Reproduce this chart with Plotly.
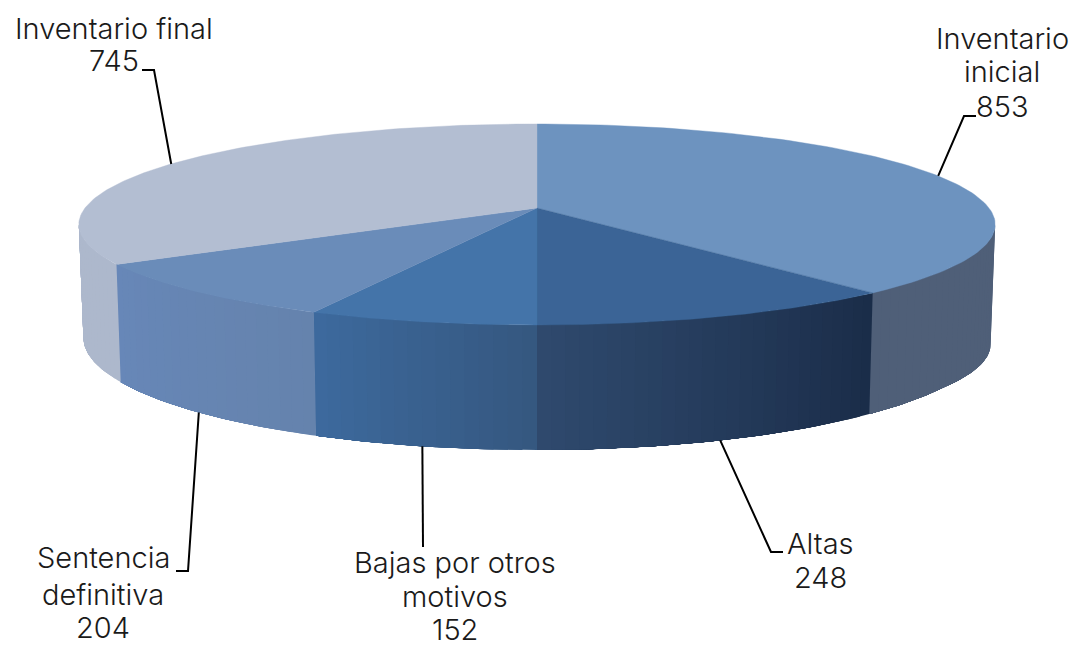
import numpy as np
import plotly.graph_objects as go

# ---- data ----
categories = ["Inventario inicial", "Altas", "Bajas por otros motivos", "Sentencia definitiva", "Inventario final"]
values = [853, 248, 152, 204, 745]
label_lines = [["Inventario", "inicial", "853"], ["Altas", "248"], ["Bajas por otros", "motivos", "152"],
               ["Sentencia", "definitiva", "204"], ["Inventario final", "745"]]

# ---- style ----
top_colors = ["#6d93bf", "#3b6496", "#4474a9", "#6a8cb9", "#b3bed2"]
wall_start = ["#4f5f78", "#1a2c48", "#35577f", "#6583ad", "#adb8cc"]
wall_end = ["#4f5f78", "#2f4a6e", "#3d6a9e", "#6787b8", "#aeb8cc"]
label_x = [1002, 820, 455, 103, 114]
label_y = [[38, 71, 106], [543, 577], [562, 596, 629], [557, 594, 627], [28, 60]]
elbows = [[(964, 116), (976, 116)], [(771, 552), (783, 552)], [(423, 547)], [(188, 571), (176, 571)], [(154, 70), (142, 70)]]

CX, CY, A, B, K = 537.0, 208.0, 452.0, 97.8, -0.164
H0, HEXP, HREF = 125.0, 0.68, 1.196
LEAN = 0.99
VIS_LO, VIS_HI = 99.4, 260.6


def top_pt(theta_deg):
    t = np.radians(theta_deg)
    X, Y = np.sin(t), -np.cos(t)
    d = 1 + K * Y
    return CX + A * X / d, CY + B * Y / d


def bottom_pt(theta_deg):
    x, y = top_pt(theta_deg)
    t = np.radians(theta_deg)
    s = 1 / (1 + K * (-np.cos(t)))
    extra = 7.0 * max(0.0, (125.0 - theta_deg) / 25.0)
    return CX + (x - CX) * LEAN, y + H0 * (s / HREF) ** HEXP + extra


def hex2rgb(h):
    return np.array([int(h[i:i + 2], 16) for i in (1, 3, 5)], dtype=float)


def mix(a, b, u):
    c = hex2rgb(a) * (1 - u) + hex2rgb(b) * u
    return "rgb(%d,%d,%d)" % tuple(c.round())


total = sum(values)
edges = np.concatenate([[0], np.cumsum(values)]) / total * 360.0
fig = go.Figure()


def poly(xs, ys, color, lw=0.0):
    fig.add_trace(go.Scatter(x=list(xs), y=list(ys), mode="lines", fill="toself", fillcolor=color,
                             line=dict(color=color, width=lw), hoverinfo="skip", showlegend=False))


# side walls: each strip runs to the slice end and the next one paints over it, so no seams show
for i in range(len(values)):
    a0, a1 = edges[i], edges[i + 1]
    lo, hi = max(a0, VIS_LO), min(a1, VIS_HI)
    if hi <= lo:
        continue
    n = max(2, int((hi - lo) / 1.5))
    th = np.linspace(lo, hi, n + 1)
    for j in range(n):
        seg = np.linspace(th[j], hi, max(3, (n - j) * 2))
        tp = np.array([top_pt(s) for s in seg])
        bp = np.array([bottom_pt(s) for s in seg])[::-1]
        u = (0.5 * (th[j] + th[j + 1]) - a0) / (a1 - a0)
        poly(np.r_[tp[:, 0], bp[:, 0]], np.r_[tp[:, 1], bp[:, 1]], mix(wall_start[i], wall_end[i], u), 0.0)

# top faces
for i in range(len(values)):
    th = np.linspace(edges[i], edges[i + 1], 120)
    p = np.array([top_pt(s) for s in th])
    poly(np.r_[CX, p[:, 0], CX], np.r_[CY, p[:, 1], CY], top_colors[i], 0.4)

# leader lines
for i in range(len(values)):
    mid = 0.5 * (edges[i] + edges[i + 1])
    front = 99.4 < mid < 260.6
    sx, sy = bottom_pt(mid) if front else top_pt(mid)
    xs = [sx] + [e[0] for e in elbows[i]]
    ys = [sy] + [e[1] for e in elbows[i]]
    fig.add_trace(go.Scatter(x=xs, y=ys, mode="lines", line=dict(color="#000000", width=2),
                             hoverinfo="skip", showlegend=False))

# labels
for lx, lys, lines in zip(label_x, label_y, label_lines):
    for ly, t in zip(lys, lines):
        fig.add_annotation(x=lx, y=ly, text=t, showarrow=False, xanchor="center", yanchor="middle", align="center",
                           font=dict(family="Inter", size=29, color="#1a1a1a", weight=300))

fig.update_layout(width=1074, height=647, margin=dict(l=0, r=0, t=0, b=0), autosize=False,
                  paper_bgcolor="white", plot_bgcolor="white",
                  xaxis=dict(range=[0, 1074], visible=False, fixedrange=True),
                  yaxis=dict(range=[647, 0], visible=False, fixedrange=True))
fig.write_html("out.html", config={"displayModeBar": False},
               post_script="document.body.style.margin='0';document.body.style.overflow='hidden';")
